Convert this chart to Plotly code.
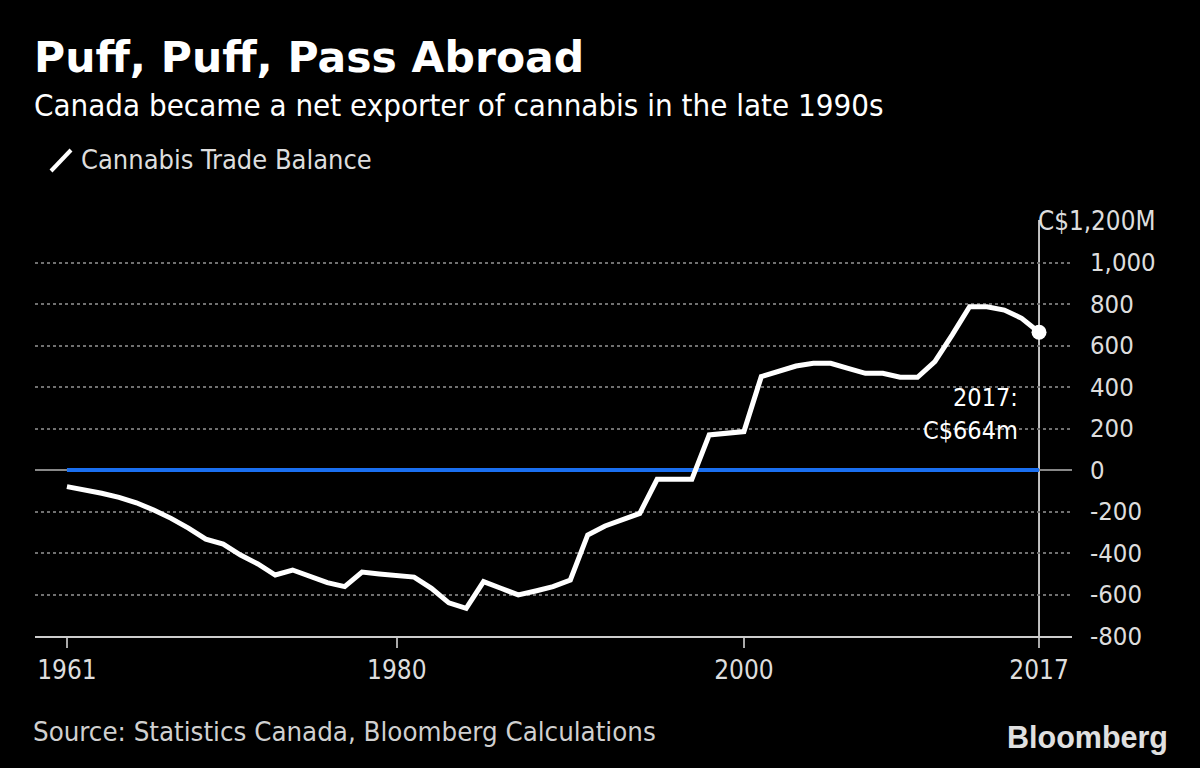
import plotly.graph_objects as go

years = list(range(1961, 2018))
balance = [-80, -93, -112, -132, -158, -193, -233, -280, -333, -357,
           -410, -453, -506, -482, -514, -543, -562, -492, -501, -511,
           -516, -570, -640, -667, -538, -570, -602, -583, -562, -530,
           -313, -270, -241, -209, -45, -45, -45, 169, 180, 185,
           450, 474, 501, 514, 514, 490, 466, 466, 447, 447,
           522, 651, 787, 787, 771, 731, 664]
ytick_vals = [-800, -600, -400, -200, 0, 200, 400, 600, 800, 1000, 1200]
ytick_text = ["-800", "-600", "-400", "-200", "0", "200", "400", "600", "800", "1,000", ""]
xtick_vals = [1961, 1980, 2000, 2017]

FONT = "DejaVu Sans Condensed, DejaVu Sans, sans-serif"
GRID = "#707070"

# plot area in page pixels: x 35..1072, y 221..636
PL, PR, PT, PB = 35, 1072, 221, 636
W, H = 1200, 768


def px(x):
    return (x - PL) / (PR - PL)


def py(y):
    return (PB - y) / (PB - PT)


fig = go.Figure()
fig.add_trace(go.Scatter(x=[years[0], years[-1]], y=[0, 0], mode="lines",
                         line=dict(color="#1a6ff0", width=4), hoverinfo="skip", showlegend=False))
fig.add_trace(go.Scatter(x=years, y=balance, mode="lines", name="Cannabis Trade Balance",
                         line=dict(color="white", width=5), showlegend=False))
fig.add_trace(go.Scatter(x=[years[-1]], y=[balance[-1]], mode="markers",
                         marker=dict(color="white", size=15), showlegend=False))

# vertical marker line at 2017
fig.add_shape(type="line", xref="x", yref="paper", x0=2017, x1=2017, y0=py(647), y1=py(220),
              line=dict(color="white", width=1.5), layer="below")
# legend icon
fig.add_shape(type="line", xref="paper", yref="paper", x0=px(51), x1=px(71),
              y0=py(171), y1=py(150), line=dict(color="white", width=4))

fig.add_annotation(xref="paper", yref="paper", x=px(32), y=py(57),
                   text="<b>Puff, Puff, Pass Abroad</b>", showarrow=False, xanchor="left", yanchor="middle",
                   font=dict(color="white", size=42.5, family="DejaVu Sans, sans-serif"))
fig.add_annotation(xref="paper", yref="paper", x=px(32), y=py(105),
                   text="Canada became a net exporter of cannabis in the late 1990s", showarrow=False,
                   xanchor="left", yanchor="middle",
                   font=dict(color="white", size=31, family=FONT))
fig.add_annotation(xref="paper", yref="paper", x=px(79), y=py(160),
                   text="Cannabis Trade Balance", showarrow=False, xanchor="left", yanchor="middle",
                   font=dict(color="#dddddd", size=27, family=FONT))
fig.add_annotation(xref="paper", yref="y", x=px(1157), y=1200,
                   text="C$1,200M", showarrow=False, xanchor="right", yanchor="middle",
                   font=dict(color="#dddddd", size=25.8, family=FONT))
fig.add_annotation(x=years[-1], y=270, xref="x", yref="y",
                   text="2017:<br>C$664m", showarrow=False, xanchor="right", yanchor="middle",
                   xshift=-19, align="right",
                   font=dict(color="white", size=25, family=FONT))
fig.add_annotation(xref="paper", yref="paper", x=px(31), y=py(731),
                   text="Source: Statistics Canada, Bloomberg Calculations", showarrow=False,
                   xanchor="left", yanchor="middle", font=dict(color="#d0d0d0", size=27.4, family=FONT))
fig.add_annotation(xref="paper", yref="paper", x=px(1170), y=py(737),
                   text="<b>Bloomberg</b>", showarrow=False, xanchor="right", yanchor="middle",
                   font=dict(color="#e0e0e0", size=30.5, family="Liberation Sans, Arial, sans-serif"))

fig.update_layout(
    width=W, height=H, autosize=False,
    paper_bgcolor="black", plot_bgcolor="black",
    margin=dict(l=PL, r=W - PR, t=PT, b=H - PB),
    showlegend=False,
    xaxis=dict(range=[1959.16, 2018.9], tickvals=xtick_vals, ticks="outside", ticklen=10,
               tickcolor="#aaaaaa", tickwidth=1.5, showgrid=False, zeroline=False,
               showline=True, linecolor="#cccccc", linewidth=1.5,
               tickfont=dict(color="#dddddd", size=26, family=FONT)),
    yaxis=dict(range=[-800, 1200], side="right", tickvals=ytick_vals, ticktext=ytick_text,
               showgrid=True, gridcolor=GRID, griddash="dot", gridwidth=2,
               zeroline=True, zerolinecolor="#888888", zerolinewidth=2,
               ticks="", ticklabelstandoff=17,
               tickfont=dict(color="#dddddd", size=25.5, family=FONT)),
)
fig.write_html("out.html", config={"displayModeBar": False},
               post_script="document.body.style.margin='0';document.body.style.background='black';")
